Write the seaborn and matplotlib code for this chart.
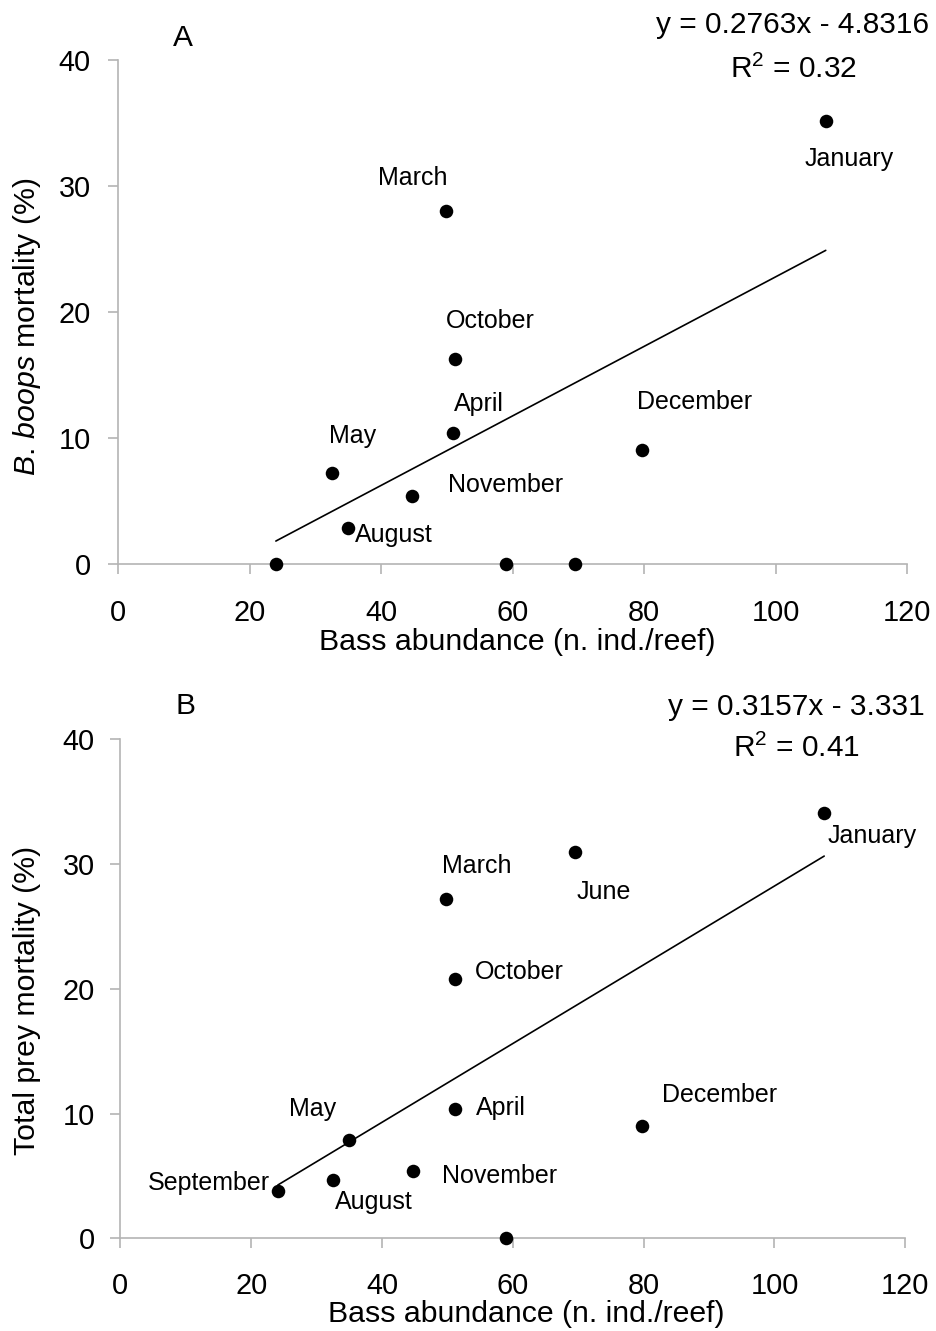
import numpy as np
import matplotlib
matplotlib.use("Agg")
import matplotlib.pyplot as plt
import seaborn as sns

# Panel A: B. boops mortality against bass abundance (one point per month)
bass_a = [24.0, 32.5, 34.9, 44.7, 49.9, 51.0, 51.2, 59.0, 69.5, 79.7, 107.6]
boops_mort = [0.0, 7.2, 2.8, 5.4, 28.0, 10.4, 16.3, 0.0, 0.0, 9.05, 35.15]
months_a = ["", "May", "August", "November", "March", "April", "October",
            "", "", "December", "January"]
slope_a, icept_a, r2_a = 0.2763, -4.8316, 0.32

# Panel B: total prey mortality against bass abundance
bass_b = [24.1, 32.5, 35.0, 44.7, 49.8, 51.1, 51.1, 59.0, 69.5, 79.8, 107.6]
prey_mort = [3.8, 4.7, 7.85, 5.4, 27.2, 10.4, 20.8, 0.0, 31.0, 9.0, 34.1]
months_b = ["September", "August", "May", "November", "March", "April",
            "October", "", "June", "December", "January"]
slope_b, icept_b, r2_b = 0.3157, -3.331, 0.41

x_ticks = [0, 20, 40, 60, 80, 100, 120]
y_ticks = [0, 10, 20, 30, 40]

# label offsets from each point, in pixels (dx to text centre, dy to baseline)
offsets_a = {"May": (21, 30), "August": (46, -14), "November": (94, 4),
             "March": (-33, 26), "April": (25, 22), "October": (36, 31),
             "December": (52, 41), "January": (23, -45)}
offsets_b = {"September": (-69, 1), "August": (41, -29), "May": (-37, 24),
             "November": (87, -12), "March": (31, 26), "April": (46, -6),
             "October": (65, 0), "June": (29, -47), "December": (77, 24),
             "January": (48, -30)}

sns.set_style("ticks")
plt.rcParams["font.family"] = ["Liberation Sans", "DejaVu Sans"]
plt.rcParams["mathtext.fontset"] = "custom"
plt.rcParams["mathtext.rm"] = "Liberation Sans"
plt.rcParams["mathtext.it"] = "Liberation Sans:italic"
plt.rcParams["text.color"] = "black"
plt.rcParams["axes.labelcolor"] = "black"
plt.rcParams["xtick.labelcolor"] = "black"
plt.rcParams["ytick.labelcolor"] = "black"

W, H = 937, 1331
fig = plt.figure(figsize=(W / 100, H / 100), dpi=100)
fig.patch.set_facecolor("white")

AXIS_GREY = "#b4b4b4"


def fpx(x, y):
    """Pixel position (from top-left) to figure fraction."""
    return x / W, 1 - y / H


def panel(rect_px, xs, ys, labels, offsets, slope, icept, r2, ylabel,
          letter, letter_pos, eq_pos, xlabel_pos, ylabel_pos, xpad, ypad):
    left, top, right, bottom = rect_px
    ax = fig.add_axes([left / W, 1 - bottom / H, (right - left) / W,
                       (bottom - top) / H])
    ax.set_facecolor("white")

    # fitted trend line drawn from the stated equation
    xl = np.array([min(xs), max(xs)])
    sns.lineplot(x=xl, y=slope * xl + icept, ax=ax, color="black",
                 linewidth=1.2, zorder=2)

    sns.scatterplot(x=xs, y=ys, ax=ax, color="black", s=95, linewidth=0,
                    zorder=4)
    ax.collections[-1].set_clip_on(False)

    for x, y, lab in zip(xs, ys, labels):
        if lab:
            dx, dy = offsets[lab]
            ax.annotate(lab, (x, y), xytext=(dx, dy),
                        textcoords="offset pixels", ha="center",
                        va="baseline", fontsize=18, color="black")

    ax.set_xlim(0, 120)
    ax.set_ylim(0, 40)
    ax.set_xticks(x_ticks)
    ax.set_yticks(y_ticks)
    sns.despine(ax=ax)
    for side in ("left", "bottom"):
        ax.spines[side].set_color(AXIS_GREY)
        ax.spines[side].set_linewidth(1.2)
    ax.tick_params(axis="both", length=7.2, width=1.2, color=AXIS_GREY,
                   labelsize=20.8, labelcolor="black")
    ax.tick_params(axis="x", pad=xpad)
    ax.tick_params(axis="y", pad=ypad)

    ax.set_xlabel("Bass abundance (n. ind./reef)", fontsize=21.8,
                  color="black")
    ax.xaxis.set_label_coords(*fpx(*xlabel_pos), transform=fig.transFigure)
    ax.xaxis.label.set_va("baseline")

    ax.set_ylabel(ylabel, fontsize=21.8, color="black")
    ax.yaxis.set_label_coords(*fpx(*ylabel_pos), transform=fig.transFigure)
    ax.yaxis.label.set_va("baseline")

    fig.text(*fpx(*letter_pos), letter, ha="center", va="baseline",
             fontsize=21.5, color="black")
    ex, ey1, ey2 = eq_pos
    fig.text(*fpx(ex, ey1), f"y = {slope}x - {abs(icept)}", ha="center",
             va="baseline", fontsize=21.5, color="black")
    fig.text(*fpx(ex, ey2), f"R$^{{2}}$ = {r2:.2f}", ha="center",
             va="baseline", fontsize=21.5, color="black")
    return ax


panel((118, 60.3, 907.3, 563.7), bass_a, boops_mort, months_a, offsets_a,
      slope_a, icept_a, r2_a, r"$\mathit{B.\,boops}$ mortality (%)",
      "A", (183, 46), (793, 33.3, 78), (517, 650), (35.5, 327), 18.5, 12.5)

panel((120.3, 739.3, 905.3, 1238.3), bass_b, prey_mort, months_b, offsets_b,
      slope_b, icept_b, r2_b, "Total prey mortality (%)",
      "B", (185.5, 714.3), (796, 715, 757), (526, 1321.7), (35, 1000),
      17, 11.3)

fig.savefig("out.png", dpi=100, facecolor="white")
